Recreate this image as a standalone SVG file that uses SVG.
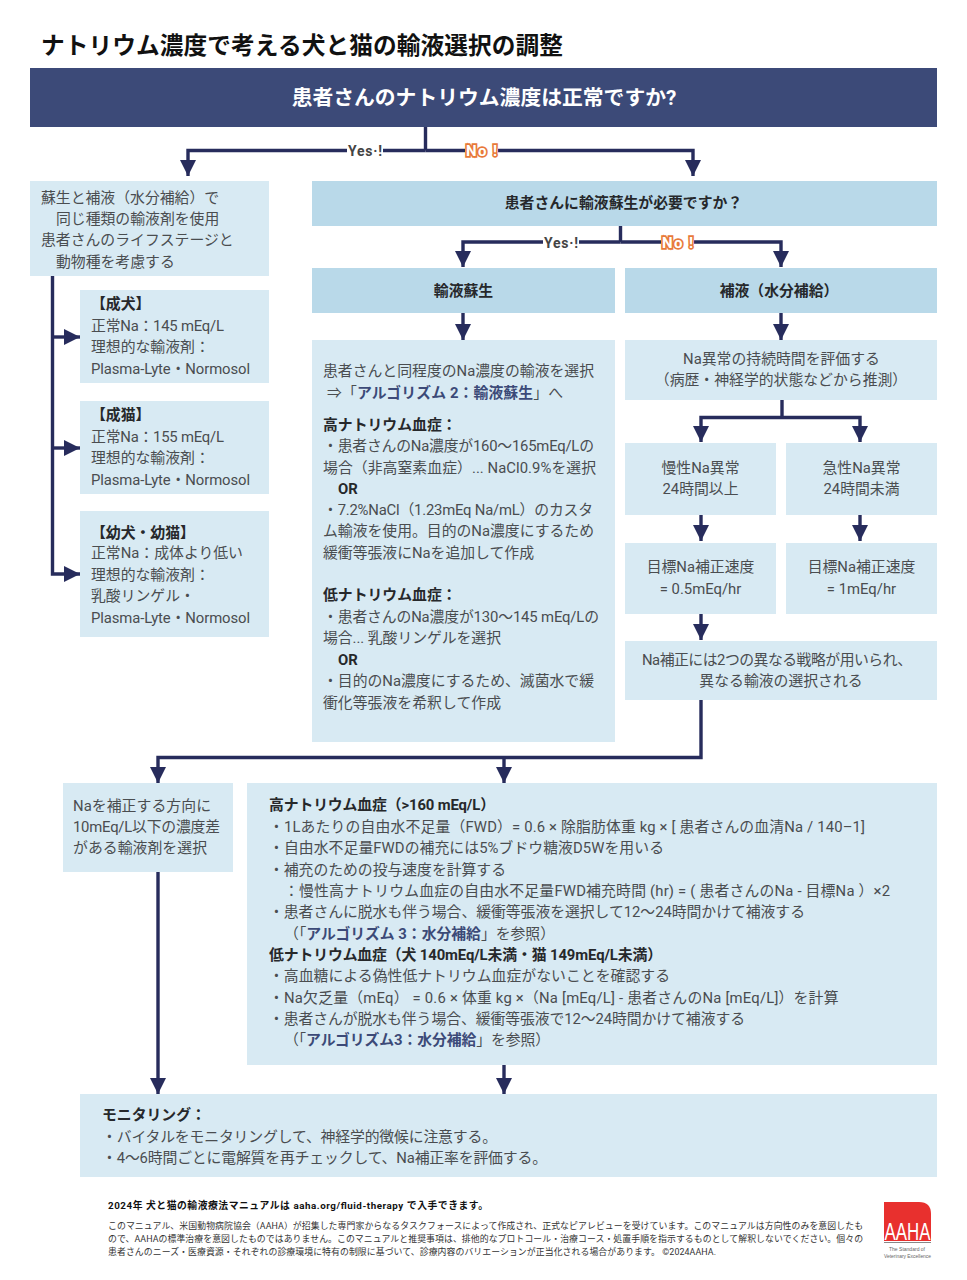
<svg xmlns="http://www.w3.org/2000/svg" width="967" height="1280" viewBox="0 0 967 1280">
<style>
text{font-family:Roboto,"Noto Sans CJK JP",sans-serif;font-size:14.85px;fill:#4a4d50}
.b{font-weight:700;fill:#26282b}
.c{text-anchor:middle}
.hl{font-weight:700;fill:#3c4a78}
.lt{fill:#d8eaf3}
.md{fill:#b9d9e9}
.ln{fill:none;stroke:#272c5c;stroke-width:3.4}
.yes{font-size:14px;font-weight:700;fill:#444}
.no{font-size:15px;font-weight:700;fill:#fff;stroke:#e8793a;stroke-width:3.4;paint-order:stroke}
.f{font-size:8.9px;fill:#333}
.tag{font-family:"Liberation Sans",sans-serif;font-size:6px;fill:#666}
</style>
<defs>
<marker id="a" markerUnits="userSpaceOnUse" markerWidth="16" markerHeight="16" refX="16" refY="8" orient="auto"><path d="M0 0L16 8L0 16z" fill="#272c5c"/></marker>
</defs>
<rect width="967" height="1280" fill="#fff"/>
<text id="title" x="41" y="54" class="b" style="font-size:23.7px;fill:#111" textLength="522">ナトリウム濃度で考える犬と猫の輸液選択の調整</text>

<g id="connectors">
<path class="ln" d="M425.500 127V150.500"/>
<path class="ln" d="M425.500 150.500H188V176" marker-end="url(#a)"/>
<path class="ln" d="M425.500 150.500H693V176" marker-end="url(#a)"/>
<path class="ln" d="M620.500 226V242"/>
<path class="ln" d="M620.500 242H463V267" marker-end="url(#a)"/>
<path class="ln" d="M620.500 242H781V267" marker-end="url(#a)"/>
<path class="ln" d="M463 313V340" marker-end="url(#a)"/>
<path class="ln" d="M781 313V340" marker-end="url(#a)"/>
<path class="ln" d="M52.500 276V574H80" marker-end="url(#a)"/>
<path class="ln" d="M52.500 337H80" marker-end="url(#a)"/>
<path class="ln" d="M52.500 448H80" marker-end="url(#a)"/>
<path class="ln" d="M782 400V417.500"/>
<path class="ln" d="M782 417.500H701V442" marker-end="url(#a)"/>
<path class="ln" d="M782 417.500H860V442" marker-end="url(#a)"/>
<path class="ln" d="M701 515V541" marker-end="url(#a)"/>
<path class="ln" d="M860 515V541" marker-end="url(#a)"/>
<path class="ln" d="M701 614V640" marker-end="url(#a)"/>
<path class="ln" d="M701 700V757.500H158V783" marker-end="url(#a)"/>
<path class="ln" d="M504 757.500V783" marker-end="url(#a)"/>
<path class="ln" d="M158 872V1094" marker-end="url(#a)"/>
<path class="ln" d="M504 1065V1094" marker-end="url(#a)"/>
<g id="labels">
<rect x="347" y="143" width="36" height="15" fill="#fff"/>
<text class="yes" x="348" y="155.500" textLength="34">Yes·!</text>
<rect x="465" y="143" width="33" height="15" fill="#fff"/>
<text class="no" x="466" y="156" textLength="31">No !</text>
<rect x="543" y="235" width="36" height="15" fill="#fff"/>
<text class="yes" x="544" y="247.500" textLength="34">Yes·!</text>
<rect x="661" y="235" width="33" height="15" fill="#fff"/>
<text class="no" x="662" y="248" textLength="31">No !</text>
</g>
</g>

<g id="q1"><rect x="30" y="68" width="907" height="59" fill="#3c4a78"/><text class="c" x="484" y="105" style="font-size:20.800px;font-weight:700;fill:#fff">患者さんのナトリウム濃度は正常ですか?</text></g>

<g id="same-fluid"><rect class="lt" x="30" y="181" width="239" height="95"/>
<text x="41" y="203">蘇生と補液（水分補給）で</text>
<text x="56" y="224">同じ種類の輸液剤を使用</text>
<text x="41" y="245">患者さんのライフステージと</text>
<text x="56" y="266.500">動物種を考慮する</text></g>

<g id="adult-dog"><rect class="lt" x="80" y="290" width="189" height="93"/>
<text class="b" x="91" y="308.500">【成犬】</text>
<text x="91" y="331" textLength="133">正常Na：145 mEq/L</text>
<text x="91" y="352">理想的な輸液剤：</text>
<text x="91" y="373.500" textLength="159">Plasma-Lyte・Normosol</text></g>

<g id="adult-cat"><rect class="lt" x="80" y="401" width="189" height="93"/>
<text class="b" x="91" y="419.500">【成猫】</text>
<text x="91" y="442" textLength="133">正常Na：155 mEq/L</text>
<text x="91" y="463">理想的な輸液剤：</text>
<text x="91" y="484.500" textLength="159">Plasma-Lyte・Normosol</text></g>

<g id="young"><rect class="lt" x="80" y="511" width="189" height="126"/>
<text class="b" x="91" y="537.500">【幼犬・幼猫】</text>
<text x="91" y="558">正常Na：成体より低い</text>
<text x="91" y="579.500">理想的な輸液剤：</text>
<text x="91" y="601">乳酸リンゲル・</text>
<text x="91" y="622.500" textLength="159">Plasma-Lyte・Normosol</text></g>

<g id="q2"><rect class="md" x="312" y="181" width="625" height="45"/><text class="b c" x="623.500" y="208">患者さんに輸液蘇生が必要ですか？</text></g>
<g id="resus"><rect class="md" x="312" y="268" width="303" height="45"/><text class="b c" x="463.500" y="295.500">輸液蘇生</text></g>
<g id="rehyd"><rect class="md" x="625" y="268" width="312" height="45"/><text class="b c" x="779" y="295.500">補液（水分補給）</text></g>

<g id="resus-detail"><rect class="lt" x="312" y="340" width="303" height="402"/>
<text x="323" y="376" textLength="271">患者さんと同程度のNa濃度の輸液を選択</text>
<text x="327" y="397.500" textLength="236">⇒「<tspan class="hl">アルゴリズム 2：輸液蘇生</tspan>」へ</text>
<text class="b" x="323" y="430">高ナトリウム血症：</text>
<text x="323" y="451" textLength="271">・患者さんのNa濃度が160～165mEq/Lの</text>
<text x="323" y="472.500" textLength="273">場合（非高窒素血症）... NaCl0.9%を選択</text>
<text class="b" x="338" y="494">OR</text>
<text x="323" y="515" textLength="270">・7.2%NaCl（1.23mEq Na/mL）のカスタ</text>
<text x="323" y="536" textLength="271">ム輸液を使用。目的のNa濃度にするため</text>
<text x="323" y="558" textLength="211">緩衝等張液にNaを追加して作成</text>
<text class="b" x="323" y="600">低ナトリウム血症：</text>
<text x="323" y="622" textLength="276">・患者さんのNa濃度が130～145 mEq/Lの</text>
<text x="323" y="643" textLength="178">場合... 乳酸リンゲルを選択</text>
<text class="b" x="338" y="665">OR</text>
<text x="323" y="686" textLength="271">・目的のNa濃度にするため、滅菌水で緩</text>
<text x="323" y="707.500" textLength="178">衝化等張液を希釈して作成</text></g>

<g id="assess"><rect class="lt" x="625" y="340" width="312" height="60"/>
<text class="c" x="781.500" y="364">Na異常の持続時間を評価する</text>
<text class="c" x="781" y="385">（病歴・神経学的状態などから推測）</text></g>
<g id="chronic"><rect class="lt" x="625" y="443" width="151" height="72"/>
<text class="c" x="700.500" y="473">慢性Na異常</text><text class="c" x="700.500" y="494">24時間以上</text></g>
<g id="acute"><rect class="lt" x="786" y="443" width="151" height="72"/>
<text class="c" x="861.500" y="473">急性Na異常</text><text class="c" x="861.500" y="494">24時間未満</text></g>
<g id="rate-chronic"><rect class="lt" x="625" y="543" width="151" height="71"/>
<text class="c" x="700.500" y="572">目標Na補正速度</text><text class="c" x="700.500" y="594">= 0.5mEq/hr</text></g>
<g id="rate-acute"><rect class="lt" x="786" y="543" width="151" height="71"/>
<text class="c" x="861.500" y="572">目標Na補正速度</text><text class="c" x="861.500" y="594">= 1mEq/hr</text></g>
<g id="strategy"><rect class="lt" x="625" y="641" width="312" height="59"/>
<text class="c" x="777" y="665" textLength="270">Na補正には2つの異なる戦略が用いられ、</text>
<text class="c" x="781" y="686">異なる輸液の選択される</text></g>

<g id="select"><rect class="lt" x="63" y="783" width="170" height="89"/>
<text x="73" y="811" textLength="138">Naを補正する方向に</text>
<text x="73" y="832" textLength="147">10mEq/L以下の濃度差</text>
<text x="73" y="853" textLength="134">がある輸液剤を選択</text></g>

<g id="strategies"><rect class="lt" x="247" y="783" width="690" height="282"/>
<text class="b" x="269" y="810" textLength="226">高ナトリウム血症（&gt;160 mEq/L）</text>
<text x="269" y="832" textLength="596">・1Lあたりの自由水不足量（FWD）= 0.6 × 除脂肪体重 kg × [ 患者さんの血清Na / 140–1]</text>
<text x="269" y="853" textLength="395">・自由水不足量FWDの補充には5%ブドウ糖液D5Wを用いる</text>
<text x="269" y="874.500" textLength="237">・補充のための投与速度を計算する</text>
<text x="284" y="895.500" textLength="606">：慢性高ナトリウム血症の自由水不足量FWD補充時間 (hr) = ( 患者さんのNa - 目標Na ）×2</text>
<text x="269" y="916.500" textLength="536">・患者さんに脱水も伴う場合、緩衝等張液を選択して12～24時間かけて補液する</text>
<text x="284" y="938.500" textLength="271">（「<tspan class="hl">アルゴリズム 3：水分補給</tspan>」を参照）</text>
<text class="b" x="269" y="959.500" textLength="393">低ナトリウム血症（犬 140mEq/L未満・猫 149mEq/L未満）</text>
<text x="269" y="981" textLength="401">・高血糖による偽性低ナトリウム血症がないことを確認する</text>
<text x="269" y="1002.500" textLength="569.500">・Na欠乏量（mEq） = 0.6 × 体重 kg ×（Na [mEq/L] - 患者さんのNa [mEq/L]）を計算</text>
<text x="269" y="1023.500" textLength="476">・患者さんが脱水も伴う場合、緩衝等張液で12～24時間かけて補液する</text>
<text x="284" y="1045" textLength="266">（「<tspan class="hl">アルゴリズム3：水分補給</tspan>」を参照）</text></g>

<g id="monitoring"><rect class="lt" x="80" y="1094" width="857" height="83"/>
<text class="b" x="102" y="1119.500">モニタリング：</text>
<text x="102" y="1141.500" textLength="395">・バイタルをモニタリングして、神経学的徴候に注意する。</text>
<text x="102" y="1162.500" textLength="445">・4～6時間ごとに電解質を再チェックして、Na補正率を評価する。</text></g>

<g id="footer">
<text class="f" x="108" y="1209" style="font-size:9.800px;font-weight:700;fill:#111" textLength="380">2024年 犬と猫の輸液療法マニュアルは aaha.org/fluid-therapy で入手できます。</text>
<text class="f" x="108" y="1228.500" textLength="755">このマニュアル、米国動物病院協会（AAHA）が招集した専門家からなるタスクフォースによって作成され、正式なピアレビューを受けています。このマニュアルは方向性のみを意図したも</text>
<text class="f" x="108" y="1241.500" textLength="755">ので、AAHAの標準治療を意図したものではありません。このマニュアルと推奨事項は、排他的なプロトコール・治療コース・処置手順を指示するものとして解釈しないでください。個々の</text>
<text class="f" x="108" y="1254.500" textLength="608">患者さんのニーズ・医療資源・それぞれの診療環境に特有の制限に基づいて、診療内容のバリエーションが正当化される場合があります。 ©2024AAHA.</text>
</g>
<g id="logo">
<path d="M884 1202H919Q931 1202 931 1214V1241H884z" fill="#e8302e"/>
<text x="884.500" y="1240" style="font-family:'Liberation Sans',sans-serif;font-size:23px;fill:#fff" textLength="46" lengthAdjust="spacingAndGlyphs">AAHA</text>
<rect x="884" y="1242" width="47" height="1" fill="#888"/>
<text x="889" y="1251" class="tag" textLength="36" lengthAdjust="spacingAndGlyphs">The Standard of</text>
<text x="884" y="1258" class="tag" textLength="47" lengthAdjust="spacingAndGlyphs">Veterinary Excellence</text>
</g>
</svg>
